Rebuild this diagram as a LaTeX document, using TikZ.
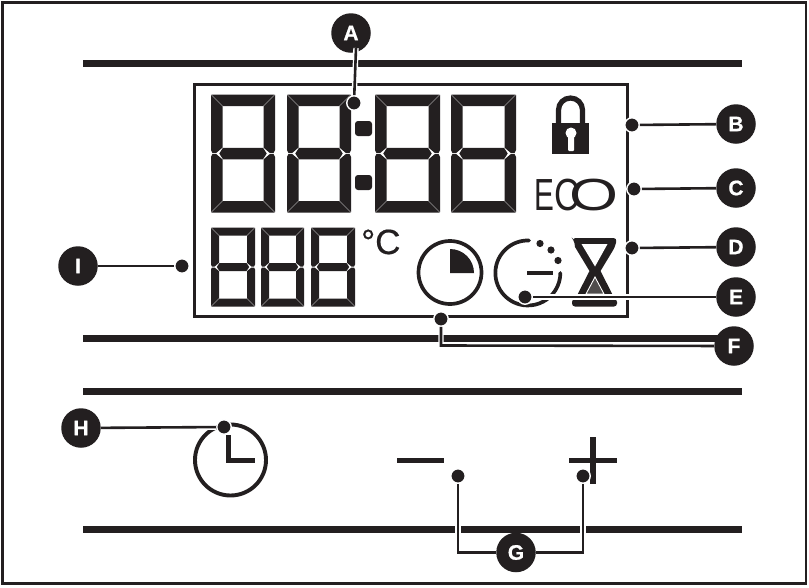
\documentclass[tikz,border=0pt]{standalone}
\usepackage{fontspec}
\setmainfont{Liberation Sans}
\newfontfamily\heavyfont{Liberation Sans}[BoldFeatures={FakeBold=0.8}]
\newfontfamily\midfont{Liberation Sans}[FakeBold=0.5]
\usepackage{graphicx}
\definecolor{ink}{HTML}{231F20}
\tikzset{
  bar/.style={line width=7pt,draw=ink},
  ring/.style={line width=3.7pt,draw=ink},
  bubble/.style={circle,fill=ink,minimum size=39.5pt,inner sep=0pt,text=white,font=\fontsize{21}{21}\heavyfont\bfseries},
  spot/.style={circle,fill=ink,draw=white,line width=1.4pt,minimum size=14.5pt,inner sep=0pt},
  conn/.style={line width=2.6pt,draw=ink,preaction={draw=white,line width=5.4pt}},
  seg/.style={fill=ink,draw=none}
}
\newcommand{\lcddigit}[5]{%
  \pgfmathsetmacro{\xa}{#1}\pgfmathsetmacro{\ya}{#2}
  \pgfmathsetmacro{\xb}{#1+#3}\pgfmathsetmacro{\yb}{#2+#4}
  \pgfmathsetmacro{\xc}{#1+#5}\pgfmathsetmacro{\xd}{#1+#3-#5}
  \pgfmathsetmacro{\yc}{#2+#5}\pgfmathsetmacro{\yd}{#2+#4-#5}
  \pgfmathsetmacro{\ym}{#2+#4/2}
  \pgfmathsetmacro{\ymu}{\ym-#5/2}\pgfmathsetmacro{\yml}{\ym+#5/2}
  \pgfmathsetmacro{\yt}{\ym-0.3*#5}\pgfmathsetmacro{\ytl}{\ym+0.3*#5}
  \pgfmathsetmacro{\xl}{#1+0.12*#5}\pgfmathsetmacro{\xr}{#1+#3-0.12*#5}
  \pgfmathsetmacro{\xlm}{#1+0.45*#5}\pgfmathsetmacro{\xrm}{#1+#3-0.45*#5}
  \pgfmathsetmacro{\xlt}{#1+0.72*#5}\pgfmathsetmacro{\xrt}{#1+#3-0.72*#5}
  \fill[seg] (\xa+.4,\ya) -- (\xb-.4,\ya) -- (\xd-.4,\yc) -- (\xc+.4,\yc) -- cycle;
  \fill[seg] (\xa+.4,\yb) -- (\xb-.4,\yb) -- (\xd-.4,\yd) -- (\xc+.4,\yd) -- cycle;
  \fill[seg] (\xc+.5,\ymu) -- (\xd-.5,\ymu) -- (\xrt,\ym) -- (\xd-.5,\yml) -- (\xc+.5,\yml) -- (\xlt,\ym) -- cycle;
  \fill[seg] (\xa,\ya+.4) -- (\xc,\yc+.4) -- (\xc,\ymu-.2) -- (\xlm,\ym-.5) -- (\xl,\ym-.5) -- (\xa,\yt) -- cycle;
  \fill[seg] (\xb,\ya+.4) -- (\xd,\yc+.4) -- (\xd,\ymu-.2) -- (\xrm,\ym-.5) -- (\xr,\ym-.5) -- (\xb,\yt) -- cycle;
  \fill[seg] (\xa,\yb-.4) -- (\xc,\yd-.4) -- (\xc,\yml+.2) -- (\xlm,\ym+.5) -- (\xl,\ym+.5) -- (\xa,\ytl) -- cycle;
  \fill[seg] (\xb,\yb-.4) -- (\xd,\yd-.4) -- (\xd,\yml+.2) -- (\xrm,\ym+.5) -- (\xr,\ym+.5) -- (\xb,\ytl) -- cycle;
}
\begin{document}
\begin{tikzpicture}[x=1pt,y=-1pt]
\useasboundingbox (0,0) rectangle (809,587);
\fill[white] (0,0) rectangle (809,587);
% outer frame
\draw[line width=2.2pt,draw=ink] (2.5,2.5) rectangle (806,583.5);
% panel bars
\foreach \yy in {63,338,391,529} \draw[bar] (83,\yy) -- (742,\yy);
% LCD frame
\draw[line width=3pt,draw=ink] (194,84) rectangle (627,316.5);
% big digits
\lcddigit{211}{94.5}{64}{118}{11.5}
\lcddigit{287}{94.5}{64}{118}{11.5}
\lcddigit{375}{94.5}{65}{118}{11.5}
\lcddigit{451}{94.5}{65}{118}{11.5}
% colon
\fill[ink,rounded corners=3pt] (355,121) rectangle (372,136);
\fill[ink,rounded corners=3pt] (355,175) rectangle (372,190);
% small digits
\lcddigit{211}{227.5}{44}{79}{8}
\lcddigit{261}{227.5}{43}{79}{8}
\lcddigit{311}{227.5}{44}{79}{8}
% degree C
\node[inner sep=0pt,anchor=base west,text=ink,font=\fontsize{35}{35}\midfont] (degc) at (361,254) {°C};
% lock
\draw[line width=5.2pt,draw=ink] (558.5,124) -- (558.5,110) arc[start angle=180,end angle=360,radius=12] -- (582.5,124);
\fill[ink] (552,123) rectangle (589,153.5);
\fill[white] (571,133) circle (5.5pt);
\fill[white,rounded corners=1pt] (568,134) rectangle (574,151);
% ECO
\node[inner sep=0pt,anchor=base west,text=ink,font=\fontsize{45}{45}\selectfont] (eco) at (534.6,210.5) {\scalebox{.66}[1]{E}\scalebox{.78}[1]{C}\kern-10.9pt\scalebox{1.4}[1]{O}};
% pie clock
\draw[ring] (450,272.5) circle (31.5);
\fill[ink] (450,249) arc[start angle=-90,end angle=0,radius=24] -- (450,273) -- cycle;
% timer
\draw[ring,line cap=round] (529,240.5) arc[start angle=-88,end angle=-360,radius=32.5];
\fill[ink] (540,243.5) circle (3.6pt) (551,250) circle (3.6pt) (558,260.5) circle (3.6pt);
\draw[line width=4pt,draw=ink] (527,272.5) -- (553,272.5);
% hourglass
\fill[ink] (574,240) [rounded corners=3.5pt] -- (572,238) -- (617,238) -- (615,247) [sharp corners] -- (600.5,271) -- (613,295.5) -- (577,295.5) -- (589.5,271) -- (575,247) [rounded corners=3.5pt] -- cycle;
\fill[white] (581.5,244) -- (607.5,244) -- (595,266.5) -- cycle;
\fill[ink!80,draw=white,line width=.9pt] (595,277) -- (604,294) -- (586,294) -- cycle;
\fill[ink,rounded corners=3pt] (572,299) rectangle (617,306.5);
% H clock
\draw[line width=3.9pt,draw=ink] (230.5,460) circle (35.5);
\draw[line width=5pt,draw=ink] (228,435) -- (228,460) -- (255,460);
% minus and plus
\draw[line width=5.8pt,draw=ink] (397,460.5) -- (444,460.5);
\draw[line width=5.4pt,draw=ink] (569,460.5) -- (617,460.5);
\draw[line width=5.4pt,draw=ink] (593,437) -- (593,484);
% spots
\node[spot] (sa) at (354,103) {};
\node[spot] (sb) at (632,125) {};
\node[spot] (sc) at (634,189) {};
\node[spot] (sd) at (632,248) {};
\node[spot] (se) at (525,297) {};
\node[spot] (sf) at (441,319) {};
\node[spot] (sgl) at (458,476) {};
\node[spot] (sgr) at (583,476) {};
\node[spot] (sh) at (224,427) {};
\node[spot] (si) at (182,266) {};
% bubbles
\node[bubble] (A) at (351,33) {A};
\node[bubble] (B) at (736,124) {B};
\node[bubble] (C) at (736,188) {C};
\node[bubble] (D) at (736,247) {D};
\node[bubble] (E) at (736,297) {E};
\node[bubble] (F) at (734,346) {F};
\node[bubble] (G) at (516,552.5) {G};
\node[bubble] (H) at (81,428) {H};
\node[bubble] (I) at (78,266) {I};
% corners of elbow connectors
\coordinate (af) at (356,48);
\coordinate (cf) at (441,345.5);
\coordinate (cgl) at (458,552.5);
\coordinate (cgr) at (583,552.5);
% connectors
\draw[conn] (sa) -- (af);
\draw[conn] (sb) -- (B);
\draw[conn] (sc) -- (C);
\draw[conn] (sd) -- (D);
\draw[conn] (se) -- (E);
\draw[conn] (sf) -- (cf) -- (F);
\draw[conn] (sgl) -- (cgl) -- (G);
\draw[conn] (sgr) -- (cgr) -- (G);
\draw[conn] (sh) -- (H);
\draw[conn] (si) -- (I);
\end{tikzpicture}
\end{document}
